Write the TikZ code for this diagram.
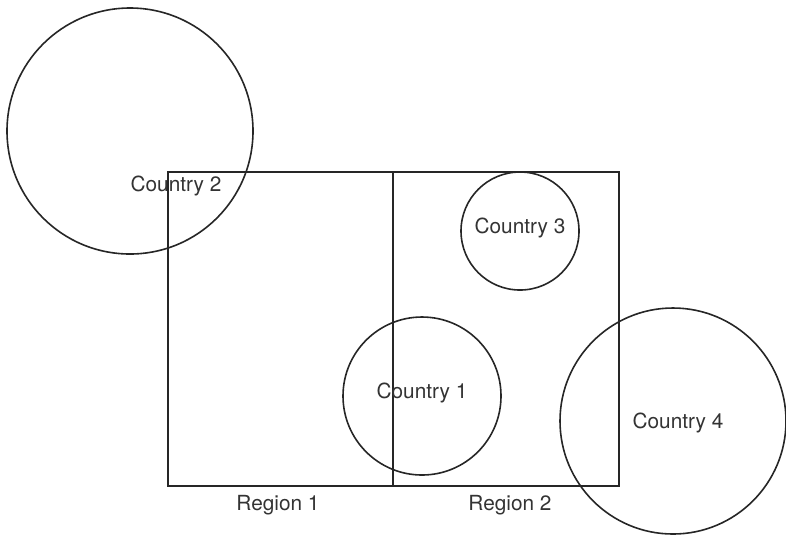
\documentclass[tikz,border=0pt]{standalone}
\usepackage{fontspec}
\setmainfont{TeX Gyre Heros}
\usetikzlibrary{positioning}
\tikzset{
    % outline of the two regions
    boundary/.style={draw=black!85,line width=0.9pt},
    % countries drawn as plain circles
    country/.style={circle,draw=black!85,line width=0.8pt,inner sep=0pt},
    tag/.style={font=\fontsize{10.4}{12}\selectfont,text=black!80,inner sep=0pt}
}

\begin{document}
\begin{tikzpicture}[x=0.5pt,y=-0.5pt]
  \useasboundingbox (0,0) rectangle (786,538);

  % Regions
  \coordinate (nw) at (168,172);
  \coordinate (se) at (619,486);
  \coordinate (split top) at (393,172);
  \coordinate (split bot) at (393,486);
  \draw[boundary] (nw) rectangle (se);
  \draw[boundary] (split top) -- (split bot);
  \node[tag] (reg1) at (278,505) {Region 1};
  \node[tag] (reg2) at (510,505) {Region 2};

  % Countries
  \node[country,minimum size=123pt] (c2) at (130,131) {};
  \node[country,minimum size=59pt] (c3) at (520,231) {};
  \node[country,minimum size=79pt] (c1) at (422,396) {};
  \node[country,minimum size=113pt] (c4) at (673,421) {};

  \node[tag] (lab2) at (176,186) {Country 2};
  \node[tag] (lab3) at (520,228) {Country 3};
  \node[tag] (lab1) at (422,393) {Country 1};
  \node[tag] (lab4) at (678,423) {Country 4};
\end{tikzpicture}
\end{document}
